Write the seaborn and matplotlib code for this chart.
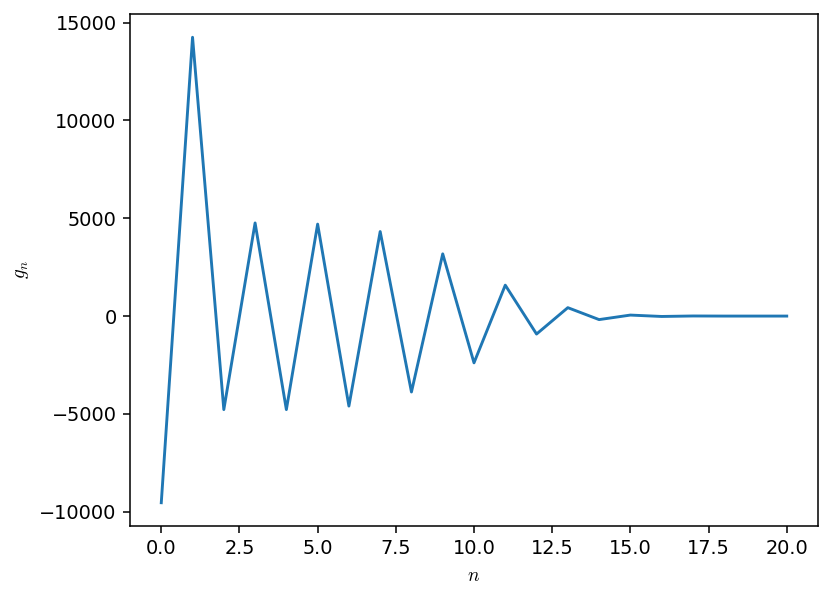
import matplotlib
matplotlib.use("Agg")
import matplotlib.pyplot as plt
import seaborn as sns
import pandas as pd

plt.rcParams["mathtext.fontset"] = "cm"

n_values = list(range(21))
g_values = [-9540, 14250, -4780, 4760, -4780, 4700, -4600, 4320, -3880, 3180,
            -2390, 1580, -918, 430, -180, 51, -20, 5, 0, 0, 0]

df = pd.DataFrame({"n": n_values, "g": g_values})

dpi = 138.5
fig = plt.figure(figsize=(831 / dpi, 598 / dpi), dpi=dpi)
ax = fig.add_axes([130 / 831, 1 - 526 / 598, (818 - 130) / 831, (526 - 14) / 598])
sns.lineplot(data=df, x="n", y="g", ax=ax, color="#1f77b4", linewidth=1.5)
ax.set_xlabel("$n$")
ax.set_ylabel("$g_n$")
fig.savefig("out.png", dpi=dpi)
